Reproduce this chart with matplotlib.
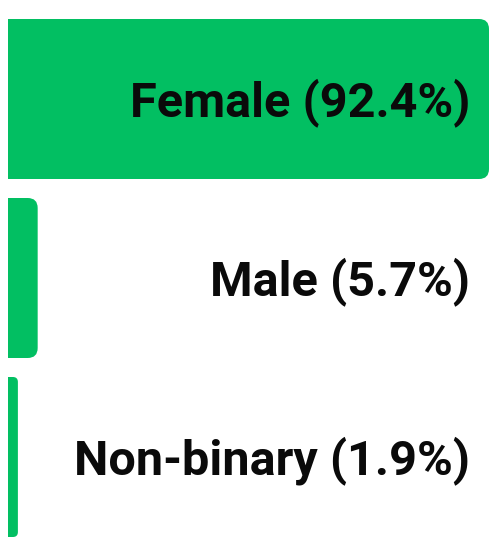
import matplotlib
matplotlib.use('Agg')
import matplotlib.pyplot as plt
from matplotlib.patches import FancyBboxPatch
from matplotlib.transforms import blended_transform_factory

plt.rcParams['font.family'] = ['Roboto', 'DejaVu Sans']

# Data
categories = ['Female', 'Male', 'Non-binary']
shares = [92.4, 5.7, 1.9]

green = '#02BF62'
W, H, DPI = 497, 538, 100

fig = plt.figure(figsize=(W / DPI, H / DPI), dpi=DPI)
ax = fig.add_axes([0, 0, 1, 1])

# pixel -> data scale
x0_px, x_end_px = 8, 489
ux = (x_end_px - x0_px) / shares[0]      # px per percent
pitch = 179                               # px per category
ax.set_xlim(-x0_px / ux, (W - x0_px) / ux)
ax.set_ylim((H - 99) / pitch, -99 / pitch)
ax.axis('off')

ypos = list(range(len(categories)))
bars = ax.barh(ypos, shares, height=160 / pitch, color=green, linewidth=0)

# rounded right ends
for b in bars:
    w, h = b.get_width(), b.get_height()
    x, y = b.get_x(), b.get_y()
    r_px = min(10, w * ux / 2)
    r = r_px / ux
    patch = FancyBboxPatch((x, y), w, h,
                           boxstyle=f'round,pad=0,rounding_size={r}',
                           mutation_aspect=ux / pitch,
                           facecolor=green, edgecolor='none')
    ax.add_patch(patch)
    b.set_width(max(w - r, 0))

trans = blended_transform_factory(ax.transAxes, ax.transData)
for yp, cat, s in zip(ypos, categories, shares):
    ax.text(470 / W, yp + 0.02, f'{cat} ({s}%)', transform=trans,
            ha='right', va='center', fontsize=35, fontweight='bold',
            color='#0a0a0a')

fig.savefig('out.png', dpi=DPI)
plt.close(fig)
